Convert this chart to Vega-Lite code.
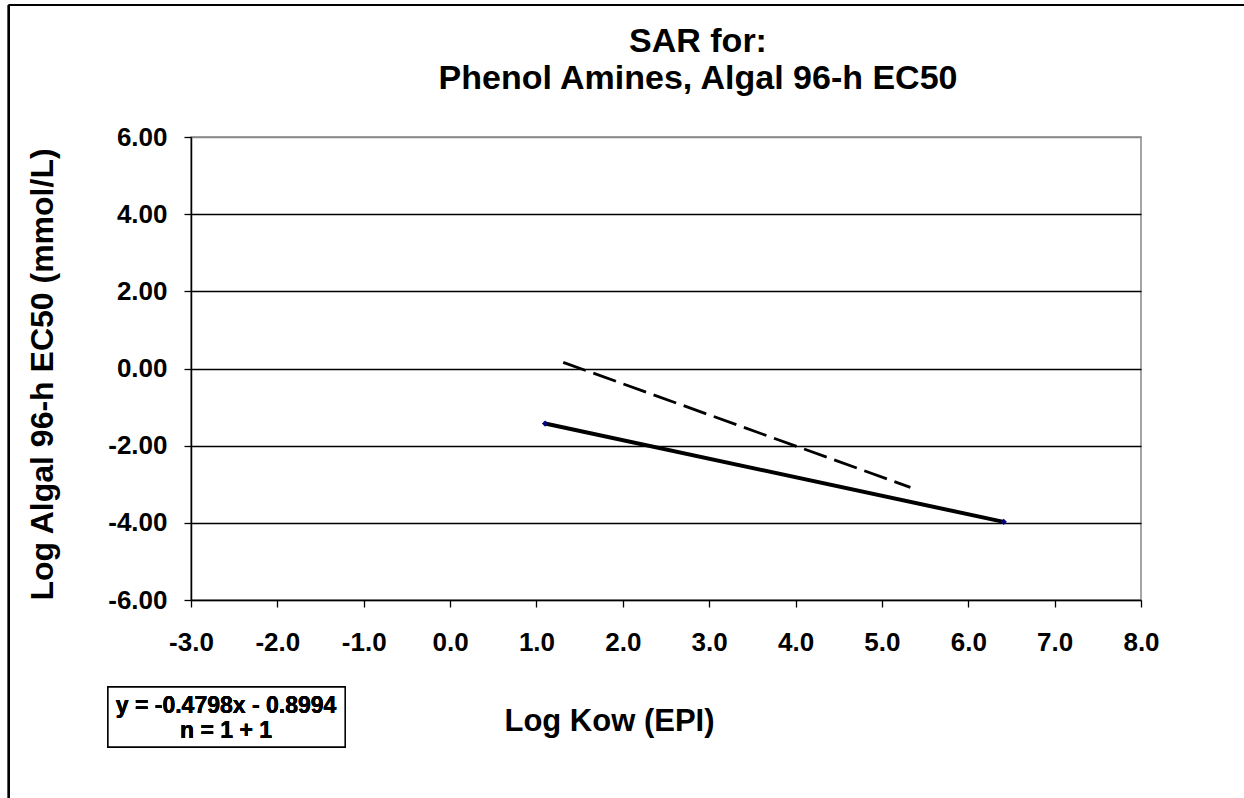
{
  "$schema": "https://vega.github.io/schema/vega-lite/v6.json",
  "width": 950,
  "height": 463,
  "autosize": "none",
  "padding": {"left": 191, "top": 137, "right": 103, "bottom": 198},
  "background": "white",
  "title": {
    "text": ["SAR for:", "Phenol Amines, Algal 96-h EC50"],
    "font": "Liberation Sans",
    "fontSize": 34,
    "fontWeight": "bold",
    "color": "black",
    "anchor": "middle",
    "frame": "group",
    "dx": 32,
    "offset": -92,
    "lineHeight": 37
  },
  "data": {
    "values": [
      {"series": "data", "x": 1.1, "y": -1.427},
      {"series": "data", "x": 6.41, "y": -3.975},
      {"series": "ref", "x": 1.31, "y": 0.16},
      {"series": "ref", "x": 5.33, "y": -3.08}
    ]
  },
  "encoding": {
    "x": {
      "field": "x", "type": "quantitative",
      "scale": {"domain": [-3, 8], "nice": false, "zero": false},
      "axis": {
        "title": "Log Kow (EPI)",
        "values": [-3, -2, -1, 0, 1, 2, 3, 4, 5, 6, 7, 8],
        "format": ".1f",
        "labelExpr": "replace(datum.label, '\u2212', '-')",
        "grid": false,
        "titleX": 418,
        "titleY": 130,
        "titleBaseline": "alphabetic",
        "titleAnchor": "middle",
        "titleAlign": "center"
      }
    },
    "y": {
      "field": "y", "type": "quantitative",
      "scale": {"domain": [-6, 6], "nice": false, "zero": false},
      "axis": {
        "title": "Log Algal 96-h EC50 (mmol/L)",
        "values": [-6, -4, -2, 0, 2, 4, 6],
        "format": ".2f",
        "labelExpr": "replace(datum.label, '\u2212', '-')",
        "grid": true,
        "gridColor": {"condition": {"test": "datum.value === 6 || datum.value === -6", "value": "#888888"}, "value": "black"},
        "gridWidth": 1.3,
        "titleX": -139,
        "titleY": 237,
        "titleFontSize": 32,
        "titleAngle": -90,
        "titleBaseline": "alphabetic",
        "titleAlign": "center"
      }
    }
  },
  "layer": [
    {
      "mark": {"type": "rule", "color": "black", "strokeWidth": 2},
      "encoding": {
        "x": {"datum": -5.11},
        "y": {"datum": 9.42},
        "y2": {"datum": -11.8}
      }
    },
    {
      "mark": {"type": "rule", "color": "black", "strokeWidth": 2},
      "encoding": {
        "x": {"datum": -5.11},
        "x2": {"datum": 11},
        "y": {"datum": 9.42}
      }
    },
    {
      "transform": [{"filter": "datum.series === 'ref'"}],
      "mark": {"type": "line", "color": "black", "strokeWidth": 2.8, "strokeDash": [24, 8]}
    },
    {
      "transform": [{"filter": "datum.series === 'data'"}],
      "mark": {"type": "line", "color": "black", "strokeWidth": 4}
    },
    {
      "transform": [{"filter": "datum.series === 'data'"}],
      "mark": {"type": "point", "shape": "diamond", "filled": true, "color": "#000080", "size": 40, "opacity": 1}
    },
    {
      "mark": {"type": "rect", "fill": "white", "stroke": "black", "strokeWidth": 1.5},
      "encoding": {
        "x": {"datum": -3.962},
        "x2": {"datum": -1.215},
        "y": {"datum": -8.256},
        "y2": {"datum": -9.811}
      }
    },
    {
      "mark": {"type": "text", "text": "y = -0.4798x - 0.8994", "font": "Liberation Sans", "fontWeight": "bold", "fontSize": 23, "align": "center", "baseline": "alphabetic", "color": "black"},
      "encoding": {"x": {"datum": -2.594}, "y": {"datum": -8.93}}
    },
    {
      "mark": {"type": "text", "text": "n = 1 + 1", "font": "Liberation Sans", "fontWeight": "bold", "fontSize": 23, "align": "center", "baseline": "alphabetic", "color": "black"},
      "encoding": {"x": {"datum": -2.594}, "y": {"datum": -9.58}}
    }
  ],
  "config": {
    "font": "Liberation Sans",
    "view": {"stroke": "#888888", "strokeWidth": 1.5},
    "axis": {
      "domainColor": "black",
      "domainWidth": 1.5,
      "tickColor": "black",
      "tickWidth": 1.3,
      "tickSize": 7,
      "labelFont": "Liberation Sans",
      "labelFontSize": 26,
      "labelFontWeight": "bold",
      "labelColor": "black",
      "titleFont": "Liberation Sans",
      "titleFontSize": 31,
      "titleFontWeight": "bold",
      "titleColor": "black",
      "labelFlush": false,
      "labelOverlap": false
    },
    "axisX": {"labelPadding": 22},
    "axisY": {"labelPadding": 17}
  }
}
